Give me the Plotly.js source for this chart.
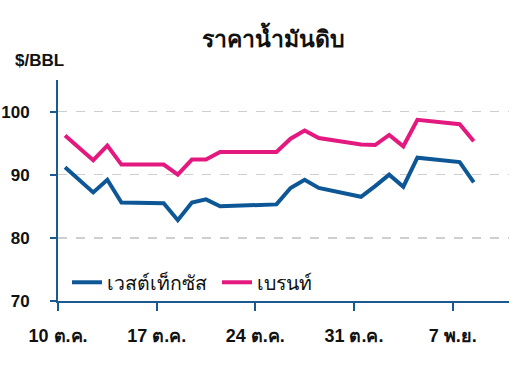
<!DOCTYPE html>
<html>
<head>
<meta charset="utf-8">
<script src="https://cdn.plot.ly/plotly-3.0.1.min.js"></script>
<style>html,body{margin:0;padding:0;background:#fff;}#chart{width:520px;height:375px;}</style>
</head>
<body>
<div id="chart"></div>
<script>
const dates = ['2022-10-10 12:00','2022-10-11 12:00','2022-10-12 12:00','2022-10-13 12:00','2022-10-14 12:00',
  '2022-10-17 12:00','2022-10-18 12:00','2022-10-19 12:00','2022-10-20 12:00','2022-10-21 12:00',
  '2022-10-24 12:00','2022-10-25 12:00','2022-10-26 12:00','2022-10-27 12:00','2022-10-28 12:00',
  '2022-10-31 12:00','2022-11-01 12:00','2022-11-02 12:00','2022-11-03 12:00','2022-11-04 12:00',
  '2022-11-07 12:00','2022-11-08 12:00'];
const wti   = [91.2, 89.2, 87.2, 89.2, 85.6, 85.5, 82.8, 85.6, 86.1, 85.0, 85.2, 85.3, 87.9, 89.2, 87.9, 86.5, 88.2, 90.0, 88.1, 92.7, 92.0, 88.8];
const brent = [96.2, 94.2, 92.3, 94.6, 91.6, 91.6, 90.0, 92.4, 92.4, 93.6, 93.6, 93.6, 95.7, 97.0, 95.8, 94.8, 94.7, 96.3, 94.5, 98.7, 98.0, 95.3];
const seriesNames = ['เวสต์เท็กซัส', 'เบรนท์'];
const xTickVals = ['2022-10-10','2022-10-17','2022-10-24','2022-10-31','2022-11-07'];
const xTickText = ['10 ต.ค.','17 ต.ค.','24 ต.ค.','31 ต.ค.','7 พ.ย.'];
const yTickVals = [70, 80, 90, 100];

const FONT = 'Liberation Sans, Arial, Noto Sans, sans-serif';
const axisColor = '#1b5a91';

const traces = [
  {x: dates, y: wti, name: seriesNames[0], type: 'scatter', mode: 'lines',
   line: {color: '#0d5796', width: 4}},
  {x: dates, y: brent, name: seriesNames[1], type: 'scatter', mode: 'lines',
   line: {color: '#e4197f', width: 4}}
];

const layout = {
  width: 520, height: 375,
  margin: {l: 58, r: 11, t: 80, b: 74},
  paper_bgcolor: '#fff', plot_bgcolor: '#fff',
  font: {family: FONT, color: '#111', size: 16},
  title: {text: '<b>ราคาน้ำมันดิบ</b>', x: 0.525, xanchor: 'center', y: 0.895, yanchor: 'middle',
          font: {size: 23, family: FONT, color: '#111'}},
  showlegend: true,
  legend: {orientation: 'h', x: 0.02, y: -0.005, xanchor: 'left', yanchor: 'bottom',
           bgcolor: 'rgba(0,0,0,0)', font: {size: 19.5, family: FONT, color: '#111'},
           itemwidth: 30, tracegroupgap: 0, entrywidth: 105, entrywidthmode: 'pixels'},
  xaxis: {
    type: 'date', range: ['2022-10-10', '2022-11-11'],
    tickvals: xTickVals, ticktext: xTickText.map(t => '<b>' + t + '</b>'),
    showgrid: false, zeroline: false,
    showline: true, linecolor: axisColor, linewidth: 2,
    ticks: 'outside', ticklen: 8, tickwidth: 2, tickcolor: axisColor,
    ticklabelstandoff: 9,
    tickfont: {size: 18, family: FONT, color: '#111'}
  },
  yaxis: {
    range: [70, 105], tickvals: yTickVals, ticktext: yTickVals.map(v => '<b>' + v + '</b>'),
    showgrid: true, gridcolor: '#cfcfcf', gridwidth: 1.5, griddash: 'dash',
    zeroline: false,
    showline: true, linecolor: axisColor, linewidth: 2,
    ticks: 'outside', ticklen: 6, tickwidth: 2, tickcolor: axisColor,
    ticklabelstandoff: 17,
    tickfont: {size: 17, family: FONT, color: '#111'}
  },
  annotations: [{
    text: '<b>$/BBL</b>', xref: 'paper', yref: 'paper', x: -0.1, y: 1.09,
    xanchor: 'left', yanchor: 'middle', showarrow: false,
    font: {size: 17, family: FONT, color: '#111'}
  }]
};

Plotly.newPlot('chart', traces, layout, {displayModeBar: false, staticPlot: true});
</script>
</body>
</html>
